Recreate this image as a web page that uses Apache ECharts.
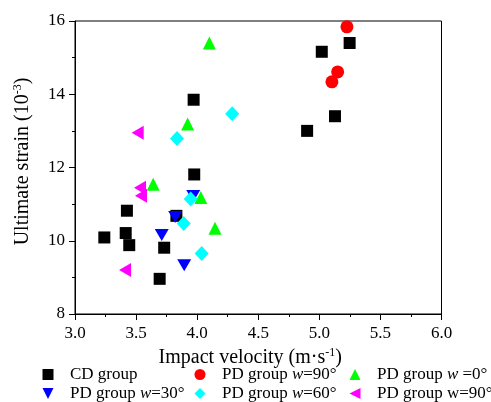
<!DOCTYPE html>
<html><head><meta charset="utf-8">
<script src="https://cdn.jsdelivr.net/npm/echarts@6/dist/echarts.min.js"></script>
<style>html,body{margin:0;padding:0;background:#fff}#c{width:491px;height:402px}</style>
</head><body><div id="c"></div>
<script>
var seriesNames = ['CD group','PD group w=90°','PD group w =0°','PD group w=30°','PD group w=60°','PD group W=90°'];
var cdGroup = [[3.24,10.09],[3.425,10.82],[3.415,10.21],[3.444,9.88],[3.73,9.81],[3.693,8.96],[3.976,11.81],[3.83,10.68],[3.971,13.85],[5.02,15.16],[5.248,15.40],[5.128,13.40],[4.90,13.0]];
var pd90 = [[5.226,15.84],[5.15,14.61],[5.103,14.34]];
var pd0 = [[4.10,15.40],[3.922,13.19],[3.64,11.54],[4.03,11.18],[4.146,10.34]];
var pd30 = [[3.968,11.22],[3.82,10.65],[3.71,10.16],[3.894,9.33]];
var pd60 = [[4.287,13.47],[3.835,12.79],[3.947,11.14],[3.89,10.47],[4.037,9.65]];
var pdW90 = [[3.513,12.95],[3.532,11.45],[3.54,11.23],[3.41,9.2]];
var xTicks = {min:3.0, max:6.0, interval:0.5};
var yTicks = {min:8, max:16, interval:2};

var font = 'Liberation Serif';
var colors = ['#000000','#ff0000','#00ff00','#0000ff','#00ffff','#ff00ff'];
var symbols = ['rect','circle','triangle','path://M0,0 L10,0 L5,10 Z','diamond','path://M10,0 L10,10 L0,5 Z'];
var sizes = [12,13,13,[14,12],[14,15],[12,14]];
var datas = [cdGroup,pd90,pd0,pd30,pd60,pdW90];
var labels = [
  'CD group',
  'PD group {i|w}=90°',
  'PD group {i|w} =0°',
  'PD group {i|w}=30°',
  'PD group {i|w}=60°',
  'PD group w=90°'
];
var legendPos = [[37.5,361],[189.5,361],[344.5,361],[37.5,380],[189.5,380],[344.5,380]];
var series = datas.map(function(d,i){
  return {name:seriesNames[i], type:'scatter', data:d, symbol:symbols[i], symbolSize:sizes[i],
    itemStyle:{color:colors[i], opacity:1}, z: 2+i};
});
var legends = datas.map(function(d,i){
  return {left:legendPos[i][0], top:legendPos[i][1], itemWidth:11, itemHeight:11, itemGap:0,
    data:[{name:seriesNames[i], icon:symbols[i]}],
    formatter:function(){return labels[i];},
    textStyle:{fontFamily:font, fontSize:17, color:'#000', padding:[0,0,0,11.5],
      rich:{i:{fontFamily:font, fontSize:17, fontStyle:'italic', color:'#000'}}},
    selectedMode:false};
});
var nameRich = {a:{fontFamily:font, fontSize:20, color:'#000'}, s:{fontFamily:font, fontSize:12, color:'#000', verticalAlign:'top', padding:[0,0,9,0]}};
var chart = echarts.init(document.getElementById('c'), null, {renderer:'canvas'});
chart.setOption({
  animation:false,
  backgroundColor:'#fff',
  grid:{left:75, right:49.5, top:21, bottom:88, show:true, borderColor:'#000', borderWidth:1},
  legend:legends,
  xAxis:{type:'value', min:xTicks.min, max:xTicks.max, interval:xTicks.interval,
    name:'{a|Impact velocity (m·s}{s|-1}{a|)}', nameLocation:'middle', nameGap:27,
    nameTextStyle:{rich:nameRich, padding:[0,16,0,0]},
    axisLine:{show:true, lineStyle:{color:'#000', width:1}},
    axisTick:{show:true, inside:false, length:6, lineStyle:{color:'#000'}},
    minorTick:{show:true, splitNumber:2, length:3, lineStyle:{color:'#000'}},
    splitLine:{show:false},
    axisLabel:{fontFamily:font, fontSize:17, color:'#000', margin:11, formatter:function(v){return v.toFixed(1);}}},
  yAxis:{type:'value', min:yTicks.min, max:yTicks.max, interval:yTicks.interval,
    name:'{a|Ultimate strain (10}{s|-3}{a|)}', nameLocation:'middle', nameGap:42,
    nameTextStyle:{rich:nameRich, padding:[0,0,0,12]},
    axisLine:{show:true, lineStyle:{color:'#000', width:1}},
    axisTick:{show:true, inside:false, length:6, lineStyle:{color:'#000'}},
    minorTick:{show:true, splitNumber:2, length:3, lineStyle:{color:'#000'}},
    splitLine:{show:false},
    axisLabel:{fontFamily:font, fontSize:17, color:'#000', margin:10}},
  series:series
});
</script></body></html>
